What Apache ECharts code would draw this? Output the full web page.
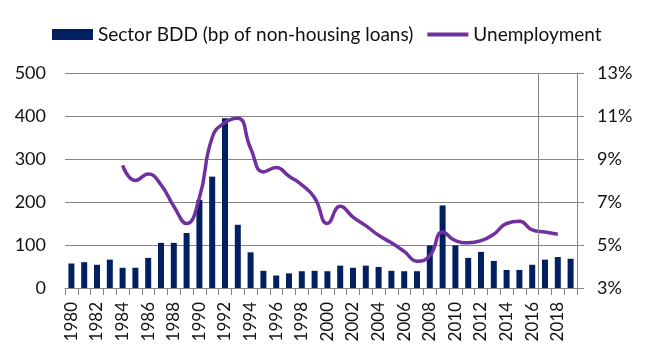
<!DOCTYPE html>
<html><head><meta charset="utf-8">
<script src="https://cdn.jsdelivr.net/npm/echarts@6/dist/echarts.min.js"></script>
<style>html,body{margin:0;padding:0;background:#fff}#c{width:646px;height:357px}</style>
</head><body><div id="c"></div>
<script>
const years = ['1980','1981','1982','1983','1984','1985','1986','1987','1988','1989',
 '1990','1991','1992','1993','1994','1995','1996','1997','1998','1999',
 '2000','2001','2002','2003','2004','2005','2006','2007','2008','2009',
 '2010','2011','2012','2013','2014','2015','2016','2017','2018','2019'];
const bdd = [57,60,54,66,47,47,70,105,105,128,
 205,259,395,147,83,40,29,34,39,40,
 39,52,47,52,49,40,39,39,99,192,
 99,70,84,63,42,42,54,66,72,68];
const unemployment = [null,null,null,null,8.7,8.0,8.3,7.8,6.8,6.0,
 7.2,10.0,10.7,10.9,9.5,8.4,8.6,8.2,7.8,7.2,
 6.0,6.8,6.3,5.9,5.45,5.1,4.7,4.25,4.5,5.6,
 5.2,5.1,5.2,5.5,6.0,6.1,5.7,5.6,5.5,null];
const leftTicks = [0,500,100];   // min, max, interval (bp)
const rightTicks = [3,13,2];     // min, max, interval (%)
const breakYear = '2017';

const font = 'Lato, "Open Sans", sans-serif';
const txt = '#111';
const grey = '#878787';
const chart = echarts.init(document.getElementById('c'));
chart.setOption({
  animation: false,
  textStyle: {fontFamily: font},
  legend: {
    top: 20, left: 47, itemGap: 14, itemWidth: 41, itemHeight: 11,
    textStyle: {fontFamily: font, fontSize: 19, color: txt},
    data: [{name: 'Sector BDD (bp of non-housing loans)', icon: 'rect'},
           {name: 'Unemployment', icon: 'path://M0 0H42V4H0Z'}]
  },
  grid: {left: 65, right: 69, top: 73, bottom: 69, containLabel: false},
  xAxis: [{
    type: 'category', data: years, boundaryGap: true,
    axisLine: {lineStyle: {color: grey}},
    axisTick: {show: true, interval: 0, length: 7, lineStyle: {color: grey}},
    axisLabel: {interval: 1, rotate: 90, margin: 14, fontSize: 17, color: txt, fontFamily: font}
  }, {
    type: 'value', min: 0, max: years.length, show: false, position: 'bottom'
  }],
  yAxis: [{
    type: 'value', min: leftTicks[0], max: leftTicks[1], interval: leftTicks[2],
    axisLine: {show: false}, axisTick: {show: false},
    splitLine: {lineStyle: {color: grey, width: 1}},
    axisLabel: {fontSize: 18, color: txt, margin: 19, fontFamily: font}
  }, {
    type: 'value', min: rightTicks[0], max: rightTicks[1], interval: rightTicks[2],
    position: 'right',
    axisLine: {show: true, lineStyle: {color: grey}},
    axisTick: {show: true, length: 7, lineStyle: {color: grey}},
    splitLine: {show: false},
    axisLabel: {fontSize: 18, color: txt, margin: 20, fontFamily: font,
      formatter: v => v + '%'}
  }],
  series: [{
    name: 'Sector BDD (bp of non-housing loans)', type: 'bar', data: bdd,
    barWidth: 6, itemStyle: {color: '#002060'}, yAxisIndex: 0
  }, {
    name: 'Unemployment', type: 'line', data: unemployment, yAxisIndex: 1,
    smooth: 0.5, symbol: 'none', connectNulls: false,
    lineStyle: {color: '#7030A0', width: 3.5}, itemStyle: {color: '#7030A0'}
  }, {
    type: 'line', xAxisIndex: 1, yAxisIndex: 0, data: [], silent: true,
    markLine: {symbol: 'none', silent: true, label: {show: false},
      lineStyle: {color: grey, width: 1, type: 'solid'},
      data: [{xAxis: years.indexOf(breakYear)}]}
  }]
});
</script></body></html>
